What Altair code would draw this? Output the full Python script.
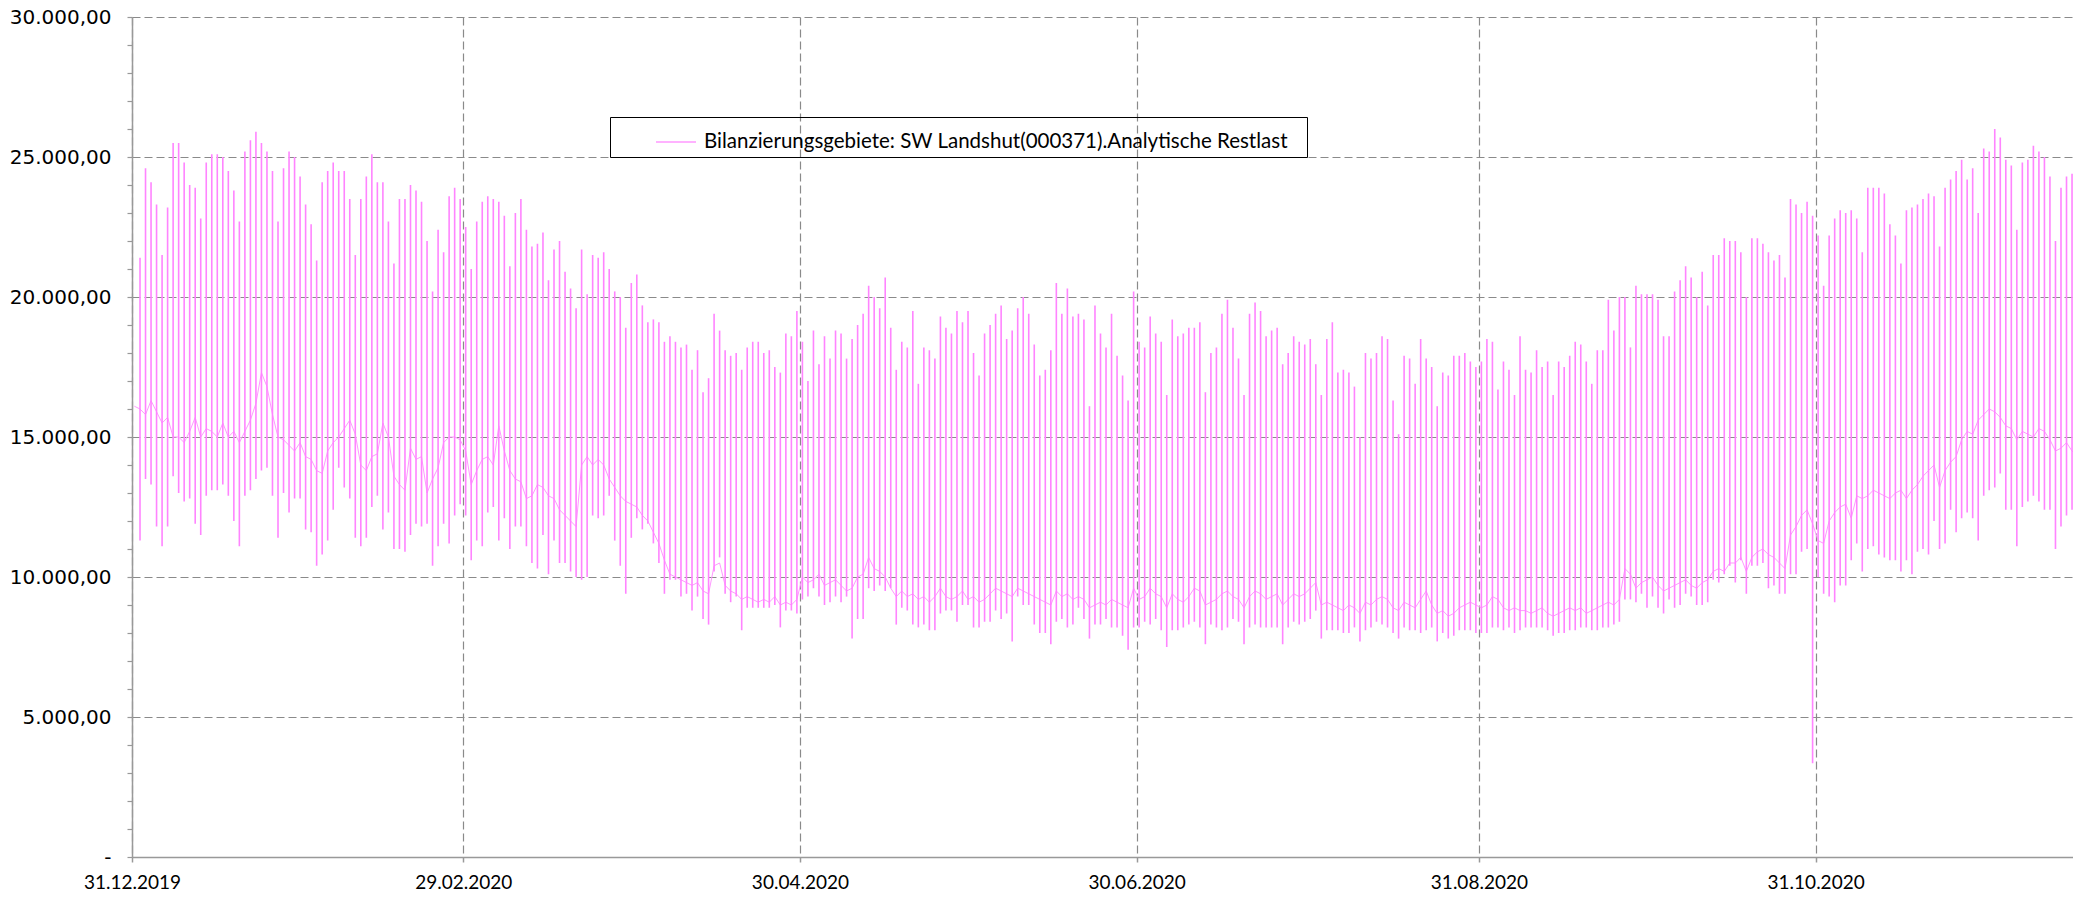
import altair as alt
import pandas as pd

SERIES = "Bilanzierungsgebiete: SW Landshut(000371).Analytische Restlast"
LINE_COLOR = "#FF99FF"
SPIKE_COLOR = "#FF84FF"
START = pd.Timestamp("2019-12-31")

# x-axis tick dates (month ends)
tick_dates = [(2019, 12, 31), (2020, 2, 29), (2020, 4, 30), (2020, 6, 30), (2020, 8, 31), (2020, 10, 31)]

# value of the thin line at the start (31.12.2019)
start_base = 16100

# daily peak, daily low and the level between the daily spikes, 01.01.2020 ... 17.12.2020
daily_max = [
    21400, 24600, 24100, 23300, 21500, 23200, 25500, 25500, 24800, 24000,
    23900, 22800, 24800, 25100, 25100, 25000, 24500, 23800, 22700, 25200,
    25600, 25900, 25500, 25200, 24500, 22700, 24600, 25200, 25000, 24300,
    23300, 22600, 21300, 24100, 24500, 24800, 24500, 24500, 23500, 21500,
    23500, 24300, 25100, 24100, 24100, 22700, 21200, 23500, 23500, 24000,
    23800, 23400, 22000, 20200, 22400, 21600, 23600, 23900, 23500, 22500,
    21000, 22700, 23400, 23600, 23500, 23400, 22900, 21100, 23000, 23500,
    22400, 21800, 21900, 22300, 20600, 21700, 22000, 20900, 20300, 19600,
    21700, 20100, 21500, 21400, 21600, 21000, 20200, 20000, 18900, 20500,
    20800, 19700, 19100, 19200, 19100, 18400, 18600, 18400, 18200, 18300,
    17400, 18100, 16600, 17100, 19400, 18800, 18100, 17900, 18000, 17400,
    18200, 18400, 18400, 18000, 18100, 17500, 17300, 18700, 18600, 19500,
    18400, 17000, 18800, 17600, 18600, 17800, 18800, 18700, 17800, 18500, 19000,
    19400, 20400, 20000, 19600, 20700, 18900, 17400, 18400, 18200, 19500,
    16900, 18200, 18100, 17800, 19300, 18900, 18700, 19500, 19100, 19500,
    18000, 17200, 18700, 19000, 19400, 19700, 18500, 18800, 19600, 20000,
    19400, 18300, 17200, 17400, 18100, 20500, 19400, 20300, 19300, 19400,
    19200, 16100, 19700, 18700, 18200, 19400, 17900, 17200, 16300, 20200,
    18400, 18200, 19300, 18700, 18400, 16500, 19200, 18600, 18700, 18900,
    18900, 19100, 16600, 18000, 18200, 19400, 19900, 18900, 17800, 16500,
    19400, 19800, 19500, 18600, 18800, 18900, 17600, 18000, 18600, 18400,
    18300, 18500, 17600, 16500, 18500, 19100, 17300, 17400, 17300, 16800,
    15000, 18000, 17800, 18000, 18600, 18500, 16300, 15100, 17900, 17800,
    16900, 18500, 17800, 17500, 16100, 17300, 17200, 17900, 17900, 18000,
    17700, 17500, 17700, 18500, 18400, 16700, 17700, 17400, 16500, 18600,
    17400, 17300, 18100, 17500, 17700, 16500, 17700, 17500, 17900, 18400,
    18300, 17700, 16900, 18100, 18100, 19900, 18800, 20000, 20000, 18200,
    20400, 20100, 20100, 20100, 19900, 18600, 18600, 20200, 20600, 21100,
    20700, 20000, 20900, 19700, 21500, 21500, 22100, 22000, 22000, 21600,
    20000, 22100, 22100, 21900, 21600, 21300, 21500, 20700, 23500, 23300,
    23000, 23400, 22900, 22200, 20400, 22200, 22800, 23100, 23000, 23100,
    22800, 21600, 23900, 23900, 23900, 23700, 22600, 22200, 21200, 23100,
    23200, 23300, 23500, 23700, 23600, 21800, 23900, 24200, 24500, 24900,
    24200, 24600, 23000, 25300, 25200, 26000, 25700, 24900, 24700, 22400,
    24800, 24900, 25400, 25200, 25000, 24300, 22000, 23900, 24300, 24400, 23800,
]

daily_min = [
    11300, 13500, 13300, 11800, 11100, 11800, 13600, 13000, 12700, 12800,
    11900, 11500, 12900, 13100, 13100, 13300, 12900, 12000, 11100, 12900,
    13100, 13500, 13800, 13900, 12900, 11400, 13000, 12300, 12800, 12800,
    11700, 11600, 10400, 10800, 11300, 12400, 13900, 13200, 12800, 11400,
    11100, 11400, 12500, 12900, 11700, 12300, 11000, 11000, 10900, 11500,
    11900, 11800, 11900, 10400, 11100, 11900, 11200, 12200, 12600, 12200,
    10600, 11300, 11100, 12300, 12500, 11300, 12100, 11000, 11800, 11800,
    11100, 10500, 10300, 11500, 10100, 11300, 10500, 10500, 10200, 10000,
    9900, 10000, 12200, 12100, 12200, 12900, 11300, 10400, 9400, 11400,
    12100, 11700, 11900, 11200, 10500, 9400, 9900, 9900, 9300, 9400,
    8800, 9300, 8500, 8300, 10200, 10700, 9400, 9100, 9300, 8100,
    8900, 8900, 8900, 8900, 8900, 9000, 8200, 8800, 8800, 8700,
    9200, 9300, 9600, 9300, 9000, 9100, 9300, 9100, 9300, 7800, 8500,
    8500, 9600, 9500, 9700, 9500, 9600, 8300, 8900, 8800, 8300,
    8200, 8300, 8100, 8100, 8700, 8800, 8800, 8400, 9000, 9000,
    8200, 8200, 8400, 8400, 8800, 8500, 8700, 7700, 9300, 9000,
    9000, 8300, 8000, 8000, 7600, 8400, 8500, 8200, 8300, 8900,
    8500, 7800, 8300, 8300, 8500, 8200, 8200, 7900, 7400, 8200,
    8200, 8400, 8300, 8500, 8100, 7500, 8100, 8100, 8200, 8300,
    8400, 8200, 7600, 8300, 8200, 8100, 8200, 8500, 8400, 7600,
    8200, 8300, 8200, 8200, 8200, 8200, 7600, 8200, 8400, 8300,
    8400, 8500, 8800, 7800, 8100, 8100, 8100, 8000, 8000, 8200,
    7700, 8100, 8200, 8400, 8300, 8200, 8000, 7800, 8200, 8100,
    8100, 8000, 8100, 8200, 7700, 8000, 7800, 7900, 8100, 8100,
    8100, 8000, 8000, 8000, 8200, 8200, 8100, 8200, 8000, 8100,
    8200, 8200, 8200, 8200, 8100, 7900, 8000, 8000, 8100, 8100,
    8200, 8200, 8100, 8100, 8200, 8200, 8300, 8400, 9200, 9200,
    9100, 9400, 8900, 9300, 8900, 8700, 9200, 8900, 9000, 9400,
    9300, 9000, 9000, 9100, 9900, 9800, 10100, 10400, 9800, 10600,
    9400, 10400, 10400, 10500, 9600, 9700, 9400, 9400, 10100, 10100,
    10900, 11000, 3350, 10000, 9400, 9300, 9100, 9700, 9700, 10600,
    11200, 10200, 11000, 11100, 10800, 10700, 10600, 10600, 10200, 10600,
    10100, 10900, 11000, 10800, 12000, 11000, 11200, 12400, 11600, 12100,
    12300, 12100, 11300, 12900, 13100, 13200, 13700, 12400, 12400, 11100,
    12500, 12700, 12900, 12700, 12400, 12400, 11000, 11800, 12200, 12400, 12200,
]

daily_base = [
    16000, 15800, 16300, 15900, 15500, 15700, 15000, 15000, 14800, 15200,
    15700, 15000, 15300, 15200, 15000, 15500, 15000, 15200, 14800, 15200,
    15600, 16200, 17300, 16800, 15800, 15000, 14900, 14700, 14500, 14800,
    14300, 14200, 13800, 13700, 14500, 14800, 15000, 15300, 15600, 15100,
    14000, 13800, 14300, 14400, 15500, 15000, 13600, 13300, 13100, 14600,
    14200, 14300, 13000, 13500, 13900, 14800, 15000, 15000, 14900, 14500,
    13300, 13800, 14200, 14300, 14000, 15400, 14500, 13800, 13500, 13400,
    12800, 12900, 13300, 13200, 12900, 12800, 12400, 12200, 12000, 11800,
    14000, 14300, 14000, 14200, 14000, 13500, 13200, 12900, 12700, 12600,
    12500, 12200, 12000, 11600, 11200, 10600, 10100, 10000, 9900, 9800,
    9700, 9800, 9500, 9400, 10400, 10500, 9700, 9500, 9400, 9200,
    9300, 9200, 9100, 9200, 9100, 9300, 9000, 9100, 9000, 9200,
    10000, 9800, 9900, 10100, 9700, 9800, 9900, 9700, 9500, 9600, 10000,
    10100, 10700, 10300, 10200, 10000, 9600, 9300, 9500, 9300, 9400,
    9200, 9300, 9100, 9300, 9600, 9300, 9200, 9300, 9500, 9200,
    9300, 9100, 9200, 9400, 9600, 9500, 9400, 9300, 9600, 9500,
    9400, 9300, 9200, 9100, 9000, 9500, 9300, 9400, 9200, 9300,
    9200, 8900, 9000, 9100, 9000, 9200, 9100, 9000, 8900, 9600,
    9200, 9300, 9600, 9400, 9300, 8900, 9400, 9200, 9100, 9300,
    9600, 9500, 9000, 9100, 9200, 9400, 9500, 9300, 9200, 8900,
    9300, 9500, 9400, 9200, 9300, 9400, 9000, 9200, 9400, 9300,
    9400, 9600, 9800, 9000, 9100, 9000, 8900, 8800, 9000, 8900,
    8700, 9100, 9000, 9200, 9300, 9200, 8900, 8800, 9100, 9000,
    8900, 9200, 9500, 9000, 8700, 8800, 8600, 8700, 8900, 9000,
    9100, 9000, 8900, 9000, 9300, 9200, 8900, 8800, 8900, 8800,
    8800, 8700, 8800, 8900, 8700, 8600, 8700, 8800, 8900, 8800,
    8900, 8700, 8800, 8900, 9000, 9100, 9000, 9200, 10300, 10100,
    9600, 9800, 9900, 10000, 9700, 9500, 9600, 9700, 9800, 9900,
    9700, 9600, 9800, 9900, 10200, 10300, 10200, 10500, 10500, 10700,
    10200, 10700, 10900, 11000, 10800, 10700, 10500, 10300, 11500, 11800,
    12200, 12400, 11900, 11300, 11200, 12000, 12300, 12500, 12600, 12100,
    12900, 12800, 12900, 13100, 13000, 12900, 12800, 13000, 13100, 12800,
    13100, 13300, 13600, 13800, 14000, 13200, 13800, 14100, 14300, 14900,
    15200, 15100, 15600, 15800, 16000, 15900, 15700, 15400, 15300, 14900,
    15200, 15100, 15000, 15300, 15200, 14900, 14500, 14600, 14800, 14500, 14300,
]


def ts(dayfrac):
    return (START + pd.Timedelta(days=dayfrac)).strftime("%Y-%m-%dT%H:%M:%S")


n = min(len(daily_max), len(daily_min), len(daily_base))

# thin line between the daily spikes
line_rows = [{"t": ts(0.42), "v": start_base, "series": SERIES}]
for i in range(n):
    line_rows.append({"t": ts(i + 1.45), "v": daily_base[i], "series": SERIES})
line_df = pd.DataFrame(line_rows)

# one vertical stroke per day, from the daily low to the daily peak
spike_df = pd.DataFrame(
    {"t": [ts(i + 1.45) for i in range(n)], "lo": daily_min[:n], "hi": daily_max[:n]}
)

GRID = "#8a8a8a"
AXIS = "#999999"

y_label = (
    "datum.value % 5000 != 0 ? '' : (datum.value == 0 ? '-\u00a0\u00a0\u00a0\u00a0' : "
    "replace(replace(replace(format(datum.value, ',.2f'), ',', '#'), '.', ','), '#', '.'))"
)

x_scale = alt.Scale(
    domain=[alt.DateTime(year=2019, month=12, date=31),
            alt.DateTime(year=2020, month=12, date=16, hours=15)],
    nice=False,
)
x_axis = alt.Axis(
    values=[alt.DateTime(year=y, month=m, date=dd) for (y, m, dd) in tick_dates],
    format="%d.%m.%Y",
    title=None,
    labelFont="Lato",
    labelFontSize=19,
    labelColor="black",
    labelPadding=11,
    labelFlush=False,
    labelOverlap=False,
    labelBound=False,
    tickSize=5,
    tickColor=AXIS,
    tickWidth=1.5,
    domainColor=AXIS,
    domainWidth=1.5,
    grid=True,
    gridColor=GRID,
    gridDash=[8, 4],
    gridWidth=1.2,
)
y_scale = alt.Scale(domain=[0, 30000], nice=False)
y_axis = alt.Axis(
    values=list(range(0, 30001, 1000)),
    labelExpr=y_label,
    title=None,
    labelFont="DejaVu Sans",
    labelFontSize=20,
    labelColor="black",
    labelPadding=16,
    labelOverlap=False,
    tickSize=5,
    tickColor=AXIS,
    tickWidth=1.2,
    domainColor=AXIS,
    domainWidth=1.5,
    grid=True,
    gridColor=GRID,
    gridDash=[8, 4],
    gridWidth=1.2,
    gridOpacity={"condition": {"test": "datum.value % 5000 === 0", "value": 1}, "value": 0},
)

color_enc = alt.Color(
    "series:N",
    scale=alt.Scale(range=[LINE_COLOR]),
    legend=alt.Legend(
        orient="none",
        legendX=478,
        legendY=100,
        title=None,
        strokeColor="black",
        padding=4,
        labelFont="Lato",
        labelFontSize=20.5,
        labelColor="black",
        labelLimit=0,
        labelOffset=7,
        labelExpr="datum.label + '\u2800'",
        symbolType="stroke",
        symbolSize=1600,
        symbolStrokeWidth=1.5,
        symbolOffset=41,
    ),
)

base_line = (
    alt.Chart(line_df)
    .mark_line(strokeWidth=1, clip=True)
    .encode(
        x=alt.X("t:T", scale=x_scale, axis=x_axis),
        y=alt.Y("v:Q", scale=y_scale, axis=y_axis),
        color=color_enc,
    )
)

spikes = (
    alt.Chart(spike_df)
    .mark_rule(strokeWidth=1.6, color=SPIKE_COLOR, clip=True)
    .encode(
        x=alt.X("t:T", scale=x_scale, axis=x_axis),
        y=alt.Y("lo:Q", scale=y_scale, axis=y_axis),
        y2="hi:Q",
    )
)

chart = (
    alt.layer(base_line, spikes)
    .properties(
        width=1941,
        height=840,
        autosize=alt.AutoSizeParams(type="none"),
        padding={"left": 124, "top": 9, "right": 0, "bottom": 37},
    )
    .configure_view(stroke=None)
)

chart.save("out.html", embed_options={"renderer": "svg", "actions": False})
